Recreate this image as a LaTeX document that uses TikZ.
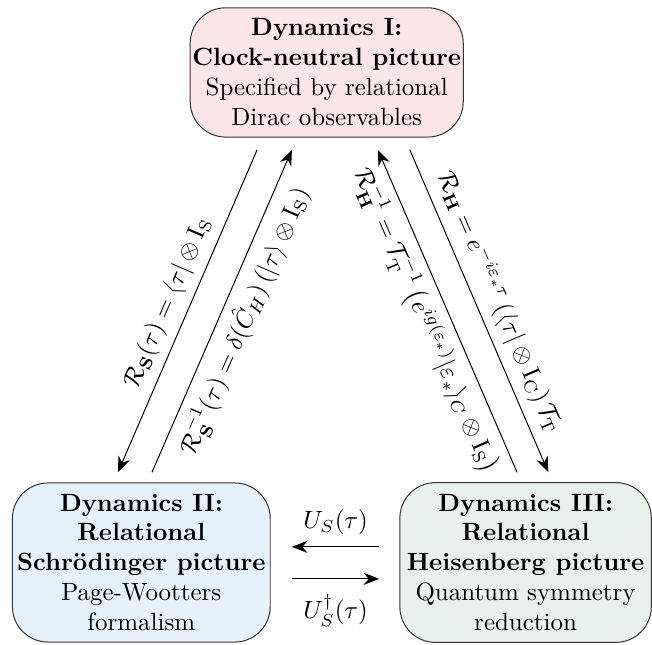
\documentclass[tikz,border=0pt]{standalone}
\usepackage{amsmath, amssymb}
\usepackage{tikz}
\usetikzlibrary{arrows.meta, positioning}
\definecolor{dynpink}{HTML}{FDE6E7}
\definecolor{dynblue}{HTML}{E7F1F9}
\definecolor{dyngreen}{HTML}{E8F1EA}
\tikzset{
  dynbox/.style={draw=black!80,rounded corners=5mm,align=center,inner xsep=0.3mm,inner ysep=1.5mm},
  mapedge/.style={-{Stealth[length=2.2mm,width=1.7mm]},black},
}

\begin{document}
\begin{tikzpicture}
  \useasboundingbox (0,0) rectangle (9.18,9.07);
  % ---- the three pictures of the dynamics ----
  \node[dynbox,fill=dynpink,minimum width=3.70cm,minimum height=1.82cm] (D1) at (4.60,8.05)
    {\textbf{Dynamics I:}\\ \textbf{Clock-neutral picture}\\ Specified by relational\\ Dirac observables};
  \node[dynbox,fill=dynblue,minimum width=3.63cm,minimum height=2.24cm] (D2) at (1.99,1.15)
    {\textbf{Dynamics II:}\\ \textbf{Relational}\\ \textbf{Schr\"odinger picture}\\ Page-Wootters\\ formalism};
  \node[dynbox,fill=dyngreen,minimum width=3.54cm,minimum height=2.25cm] (D3) at (7.40,1.15)
    {\textbf{Dynamics III:}\\ \textbf{Relational}\\ \textbf{Heisenberg picture}\\ Quantum symmetry\\ reduction};
  % ---- free ends of the maps ----
  \coordinate (S1a) at (3.62,6.96); \coordinate (S1b) at (1.66,2.42);
  \coordinate (S2a) at (2.14,2.42); \coordinate (S2b) at (4.11,6.96);
  \coordinate (H1a) at (7.28,2.42); \coordinate (H1b) at (5.32,6.96);
  \coordinate (H2a) at (5.77,6.96); \coordinate (H2b) at (7.72,2.42);
  \coordinate (U1a) at (5.34,1.37); \coordinate (U1b) at (4.11,1.37);
  \coordinate (U2a) at (4.11,0.92); \coordinate (U2b) at (5.34,0.92);
  % I <-> II
  \draw[mapedge] (S1a) -- node[sloped,above] {$\mathcal{R}_{\mathbf{S}}(\tau)=\langle\tau|\otimes\mathrm{I}_{\mathrm{S}}$} (S1b);
  \draw[mapedge] (S2a) -- node[sloped,below] {$\mathcal{R}_{\mathbf{S}}^{-1}(\tau)=\delta(\hat{C}_H)\,(|\tau\rangle\otimes\mathrm{I}_{\mathrm{S}})$} (S2b);
  % I <-> III
  \draw[mapedge] (H1a) -- node[sloped,below] {$\mathcal{R}_{\mathbf{H}}^{-1}=\mathcal{T}_{\mathrm{T}}^{-1}\left(e^{ig(\varepsilon_*)}|\varepsilon_*\rangle_C\otimes\mathrm{I}_{\mathrm{S}}\right)$} (H1b);
  \draw[mapedge] (H2a) -- node[sloped,above] {$\mathcal{R}_{\mathbf{H}}=e^{-i\varepsilon_*\tau}\,(\langle\tau|\otimes\mathrm{I}_{\mathrm{C}})\,\mathcal{T}_{\mathrm{T}}$} (H2b);
  % II <-> III
  \draw[mapedge] (U1a) -- node[above=0.5mm] {$U_S(\tau)$} (U1b);
  \draw[mapedge] (U2a) -- node[below=1mm] {$U_S^\dagger(\tau)$} (U2b);
\end{tikzpicture}
\end{document}
